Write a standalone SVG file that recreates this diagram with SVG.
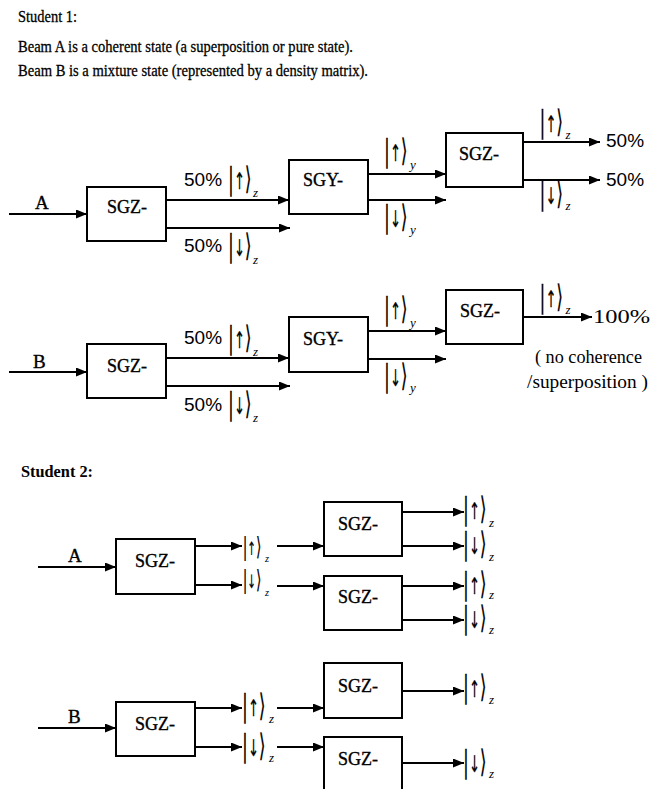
<svg xmlns="http://www.w3.org/2000/svg" width="652" height="789" viewBox="0 0 652 789">
<style>
text{fill:#000}
.hd{font-family:"Liberation Serif","Times New Roman",serif;font-size:17.5px;stroke:#000;stroke-width:0.3}
.hb{font-family:"Liberation Serif","Times New Roman",serif;font-size:17px;font-weight:bold}
.box rect{fill:#fff;stroke:#000;stroke-width:2}
.box text{font-family:"Liberation Serif","Times New Roman",serif;font-size:18px;stroke:#000;stroke-width:0.35}
.beam{font-family:"Liberation Serif","Times New Roman",serif;font-size:19px;stroke:#000;stroke-width:0.35}
.pct{font-family:"Liberation Sans",Arial,sans-serif;font-size:19px}
.note{font-family:"Liberation Serif","Times New Roman",serif;font-size:18px}
.conn line{stroke:#000;stroke-width:2;marker-end:url(#ah)}
.k{font-family:"DejaVu Sans",sans-serif;font-size:31px;stroke:#000;stroke-width:0.25}
.ar{font-size:23px}
.sb{font-family:"Liberation Serif","Times New Roman",serif;font-size:13px;font-style:italic}
</style>
<defs>
<marker id="ah" markerUnits="userSpaceOnUse" markerWidth="11" markerHeight="9" refX="11" refY="4.5" orient="auto">
<path d="M0,0 L11,4.5 L0,9 z" fill="#000"/>
</marker>
</defs>
<rect width="652" height="789" fill="#fff"/>

<g id="header">
<text class="hd" x="18" y="22" textLength="59" lengthAdjust="spacingAndGlyphs">Student 1:</text>
<text class="hd" x="18" y="52" textLength="335" lengthAdjust="spacingAndGlyphs">Beam A is a coherent state (a superposition or pure state).</text>
<text class="hd" x="18" y="76" textLength="350" lengthAdjust="spacingAndGlyphs">Beam B is a mixture state (represented by a density matrix).</text>
<text class="hb" x="21" y="477" textLength="72" lengthAdjust="spacingAndGlyphs">Student 2:</text>
</g>

<g id="connectors" class="conn">
<line x1="9" y1="214" x2="87" y2="214"/>
<line x1="166" y1="200" x2="289" y2="200"/>
<line x1="166" y1="228" x2="290" y2="228"/>
<line x1="368" y1="174" x2="446" y2="174"/>
<line x1="368" y1="200" x2="446" y2="200"/>
<line x1="523" y1="142" x2="600" y2="142"/>
<line x1="523" y1="180" x2="600" y2="180"/>

<line x1="9" y1="372" x2="87" y2="372"/>
<line x1="166" y1="358" x2="289" y2="358"/>
<line x1="166" y1="386" x2="290" y2="386"/>
<line x1="368" y1="331" x2="446" y2="331"/>
<line x1="368" y1="359" x2="446" y2="359"/>
<line x1="523" y1="317" x2="592" y2="317"/>

<line x1="38" y1="567" x2="116" y2="567"/>
<line x1="195" y1="546" x2="242" y2="546"/>
<line x1="195" y1="585" x2="242" y2="585"/>
<line x1="277" y1="546" x2="324" y2="546"/>
<line x1="277" y1="586" x2="324" y2="586"/>
<line x1="402" y1="512" x2="464" y2="512"/>
<line x1="402" y1="546" x2="464" y2="546"/>
<line x1="402" y1="586" x2="464" y2="586"/>
<line x1="402" y1="620" x2="464" y2="620"/>

<line x1="38" y1="728" x2="116" y2="728"/>
<line x1="195" y1="708" x2="242" y2="708"/>
<line x1="195" y1="747" x2="242" y2="747"/>
<line x1="277" y1="708" x2="324" y2="708"/>
<line x1="277" y1="747" x2="324" y2="747"/>
<line x1="402" y1="691" x2="464" y2="691"/>
<line x1="402" y1="763" x2="464" y2="763"/>
</g>

<g id="s1a-sgz1" class="box"><rect x="87" y="187" width="79" height="54"/><text x="107" y="213">SGZ-</text></g>
<g id="s1a-sgy" class="box"><rect x="289" y="160" width="79" height="54"/><text x="303" y="186">SGY-</text></g>
<g id="s1a-sgz2" class="box"><rect x="446" y="133" width="77" height="54"/><text x="459" y="160">SGZ-</text></g>

<g id="s1b-sgz1" class="box"><rect x="87" y="344" width="79" height="54"/><text x="107" y="372">SGZ-</text></g>
<g id="s1b-sgy" class="box"><rect x="289" y="317" width="79" height="55"/><text x="303" y="345">SGY-</text></g>
<g id="s1b-sgz2" class="box"><rect x="446" y="290" width="77" height="54"/><text x="460" y="317">SGZ-</text></g>

<g id="s2a-sgz" class="box"><rect x="116" y="539" width="79" height="55"/><text x="135" y="567">SGZ-</text></g>
<g id="s2a-sgz-up" class="box"><rect x="324" y="502" width="78" height="54"/><text x="338" y="530">SGZ-</text></g>
<g id="s2a-sgz-down" class="box"><rect x="324" y="576" width="78" height="54"/><text x="338" y="603">SGZ-</text></g>

<g id="s2b-sgz" class="box"><rect x="116" y="702" width="79" height="54"/><text x="135" y="730">SGZ-</text></g>
<g id="s2b-sgz-up" class="box"><rect x="324" y="663" width="78" height="55"/><text x="338" y="692">SGZ-</text></g>
<g id="s2b-sgz-down" class="box"><rect x="324" y="737" width="78" height="60"/><text x="338" y="765">SGZ-</text></g>

<g id="labels">
<text class="beam" x="35" y="209">A</text>
<text class="beam" x="33" y="368">B</text>
<text class="beam" x="68" y="562">A</text>
<text class="beam" x="68" y="723">B</text>

<text class="pct" x="184" y="186">50%</text>
<text class="pct" x="184" y="252">50%</text>
<text class="pct" x="606" y="147">50%</text>
<text class="pct" x="606" y="186">50%</text>
<text class="pct" x="184" y="344">50%</text>
<text class="pct" x="184" y="411">50%</text>
<text class="note" x="593" y="323" textLength="57" lengthAdjust="spacingAndGlyphs">100%</text>
<text class="note" x="535" y="363" textLength="107" lengthAdjust="spacingAndGlyphs">( no coherence</text>
<text class="note" x="527" y="388" textLength="121" lengthAdjust="spacingAndGlyphs">/superposition )</text>
</g>

<g id="kets">
<g transform="translate(231,195)"><text class="k" transform="scale(0.56,1)" x="-5.2" y="-6">|<tspan class="ar">↑</tspan>⟩</text><text class="sb" x="22" y="2">z</text></g>
<g transform="translate(231,262)"><text class="k" transform="scale(0.56,1)" x="-5.2" y="-6">|<tspan class="ar">↓</tspan>⟩</text><text class="sb" x="22" y="2">z</text></g>
<g transform="translate(387,167)"><text class="k" transform="scale(0.56,1)" x="-5.2" y="-6">|<tspan class="ar">↑</tspan>⟩</text><text class="sb" x="23" y="2">y</text></g>
<g transform="translate(387,233)"><text class="k" transform="scale(0.56,1)" x="-5.2" y="-6">|<tspan class="ar">↓</tspan>⟩</text><text class="sb" x="23" y="1">y</text></g>
<g transform="translate(542.5,138)"><text class="k" transform="scale(0.56,1)" x="-5.2" y="-6">|<tspan class="ar">↑</tspan>⟩</text><text class="sb" x="23" y="1">z</text></g>
<g transform="translate(542.5,210)"><text class="k" transform="scale(0.56,1)" x="-5.2" y="-6">|<tspan class="ar">↓</tspan>⟩</text><text class="sb" x="23" y="0">z</text></g>

<g transform="translate(231,354)"><text class="k" transform="scale(0.56,1)" x="-5.2" y="-6">|<tspan class="ar">↑</tspan>⟩</text><text class="sb" x="22" y="2">z</text></g>
<g transform="translate(231,420)"><text class="k" transform="scale(0.56,1)" x="-5.2" y="-6">|<tspan class="ar">↓</tspan>⟩</text><text class="sb" x="22" y="2">z</text></g>
<g transform="translate(387,325)"><text class="k" transform="scale(0.56,1)" x="-5.2" y="-6">|<tspan class="ar">↑</tspan>⟩</text><text class="sb" x="23" y="2">y</text></g>
<g transform="translate(387,392)"><text class="k" transform="scale(0.56,1)" x="-5.2" y="-6">|<tspan class="ar">↓</tspan>⟩</text><text class="sb" x="23" y="0">y</text></g>
<g transform="translate(542.5,313)"><text class="k" transform="scale(0.56,1)" x="-5.2" y="-6">|<tspan class="ar">↑</tspan>⟩</text><text class="sb" x="23" y="1">z</text></g>

<g transform="translate(245,560) scale(0.8)"><text class="k" transform="scale(0.56,1)" x="-5.2" y="-6">|<tspan class="ar">↑</tspan>⟩</text><text class="sb" x="25" y="2">z</text></g>
<g transform="translate(245,593) scale(0.8)"><text class="k" transform="scale(0.56,1)" x="-5.2" y="-6">|<tspan class="ar">↓</tspan>⟩</text><text class="sb" x="25" y="4">z</text></g>
<g transform="translate(466,525)"><text class="k" transform="scale(0.56,1)" x="-5.2" y="-6">|<tspan class="ar">↑</tspan>⟩</text><text class="sb" x="23" y="2">z</text></g>
<g transform="translate(466,560)"><text class="k" transform="scale(0.56,1)" x="-5.2" y="-6">|<tspan class="ar">↓</tspan>⟩</text><text class="sb" x="23" y="1">z</text></g>
<g transform="translate(466,600)"><text class="k" transform="scale(0.56,1)" x="-5.2" y="-6">|<tspan class="ar">↑</tspan>⟩</text><text class="sb" x="23" y="-1">z</text></g>
<g transform="translate(466,634)"><text class="k" transform="scale(0.56,1)" x="-5.2" y="-6">|<tspan class="ar">↓</tspan>⟩</text><text class="sb" x="23" y="0">z</text></g>

<g transform="translate(245,722)"><text class="k" transform="scale(0.56,1)" x="-5.2" y="-6">|<tspan class="ar">↑</tspan>⟩</text><text class="sb" x="24" y="1">z</text></g>
<g transform="translate(245,762)"><text class="k" transform="scale(0.56,1)" x="-5.2" y="-6">|<tspan class="ar">↓</tspan>⟩</text><text class="sb" x="24" y="0">z</text></g>
<g transform="translate(466,703)"><text class="k" transform="scale(0.56,1)" x="-5.2" y="-6">|<tspan class="ar">↑</tspan>⟩</text><text class="sb" x="23" y="1">z</text></g>
<g transform="translate(466,778)"><text class="k" transform="scale(0.56,1)" x="-5.2" y="-6">|<tspan class="ar">↓</tspan>⟩</text><text class="sb" x="23" y="0">z</text></g>
</g>
</svg>
